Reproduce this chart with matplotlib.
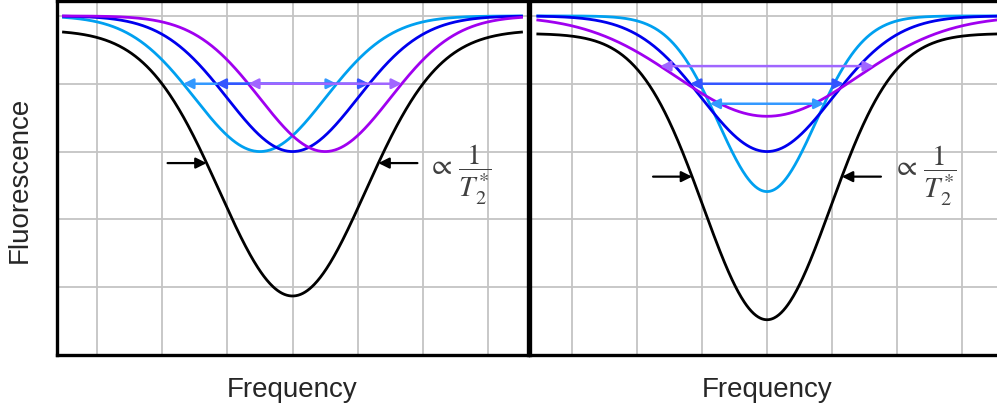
import numpy as np
import matplotlib
matplotlib.use("Agg")
import matplotlib.pyplot as plt

plt.rcParams['font.family'] = ['Liberation Sans', 'DejaVu Sans']
plt.rcParams['mathtext.fontset'] = 'stix'

# Line-shape parameters (grid units): centre, dip depth, half width at half depth
baseline = 5.0
left_centers = [-0.5, 0.0, 0.5]
left_depths = [2.0, 2.0, 2.0]
left_hwhm = [1.18, 1.18, 1.18]

right_centers = [0.0, 0.0, 0.0]
right_depths = [2.59, 2.0, 1.48]
right_hwhm = [0.88, 1.18, 1.64]

# Broad reference dip
left_black = dict(base=4.79, depth=3.92, hwhm=1.32)
right_black = dict(base=4.74, depth=4.22, hwhm=1.15)

line_colors = ['#00A0F0', '#0000EE', '#A000F0']
arrow_colors = ['#3399FF', '#3355FF', '#A066FF']

x_label = "Frequency"
y_label = "Fluorescence"
width_label = r'$\propto\,\dfrac{1}{T_2^{*}}$'


def dip(x, c, base, depth, hwhm):
    sigma = hwhm / np.sqrt(2 * np.log(2))
    return base - depth * np.exp(-(x - c) ** 2 / (2 * sigma ** 2))


W, H = 997, 409
fig = plt.figure(figsize=(W / 100, H / 100), dpi=100)

ax_l = fig.add_axes([57 / W, 54 / H, 471 / W, 354 / H])
ax_r = fig.add_axes([530 / W, 54 / H, 474 / W, 354 / H])

x = np.linspace(-3.52, 3.52, 600)


def setup(ax, half):
    ax.set_xlim(-half, half)
    ax.set_ylim(0, 5.22)
    ax.set_xticks([-3, -2, -1, 0, 1, 2, 3])
    ax.set_yticks([1, 2, 3, 4, 5])
    ax.grid(True, color='#c4c4c4', lw=1.3)
    ax.tick_params(length=0, labelbottom=False, labelleft=False)
    for s in ax.spines.values():
        s.set_linewidth(2.4)
        s.set_color('black')
    ax.set_axisbelow(True)


def draw_panel(ax, centers, depths, hwhms, black, txt_x, txt_y):
    # reference dip with width markers
    ax.plot(x, dip(x, 0, black['base'], black['depth'], black['hwhm']),
            color='black', lw=2.0, zorder=3)
    yh = black['base'] - black['depth'] / 2
    hw = black['hwhm']
    arr = dict(arrowstyle='-|>', color='black', lw=1.6, mutation_scale=16,
               shrinkA=0, shrinkB=0)
    ax.annotate('', xy=(-hw, yh), xytext=(-hw - 0.6, yh), arrowprops=arr, zorder=4)
    ax.annotate('', xy=(hw, yh), xytext=(hw + 0.6, yh), arrowprops=arr, zorder=4)
    ax.text(txt_x, txt_y, width_label, fontsize=21, color='#404040',
            ha='left', va='center')

    for c, d, h, lc in zip(centers, depths, hwhms, line_colors):
        ax.plot(x, dip(x, c, baseline, d, h), color=lc, lw=2.0, zorder=3)
    for c, d, h, ac in zip(centers, depths, hwhms, arrow_colors):
        ya = baseline - d / 2
        ax.annotate('', xy=(c + h, ya), xytext=(c - h, ya),
                    arrowprops=dict(arrowstyle='<|-|>', color=ac, lw=1.8,
                                    mutation_scale=15, shrinkA=0, shrinkB=0),
                    zorder=5)


setup(ax_l, 3.62)
setup(ax_r, 3.64)
draw_panel(ax_l, left_centers, left_depths, left_hwhm, left_black, 2.06, 2.66)
draw_panel(ax_r, right_centers, right_depths, right_hwhm, right_black, 1.92, 2.65)

fig.text(292 / W, 12 / H, x_label, fontsize=20, color='#262626',
         ha='center', va='baseline')
fig.text(767 / W, 12 / H, x_label, fontsize=20, color='#262626',
         ha='center', va='baseline')
fig.text(20 / W, (H - 180) / H, y_label, fontsize=20, color='#262626',
         ha='center', va='center', rotation=90)

fig.savefig('out.png', dpi=100)
